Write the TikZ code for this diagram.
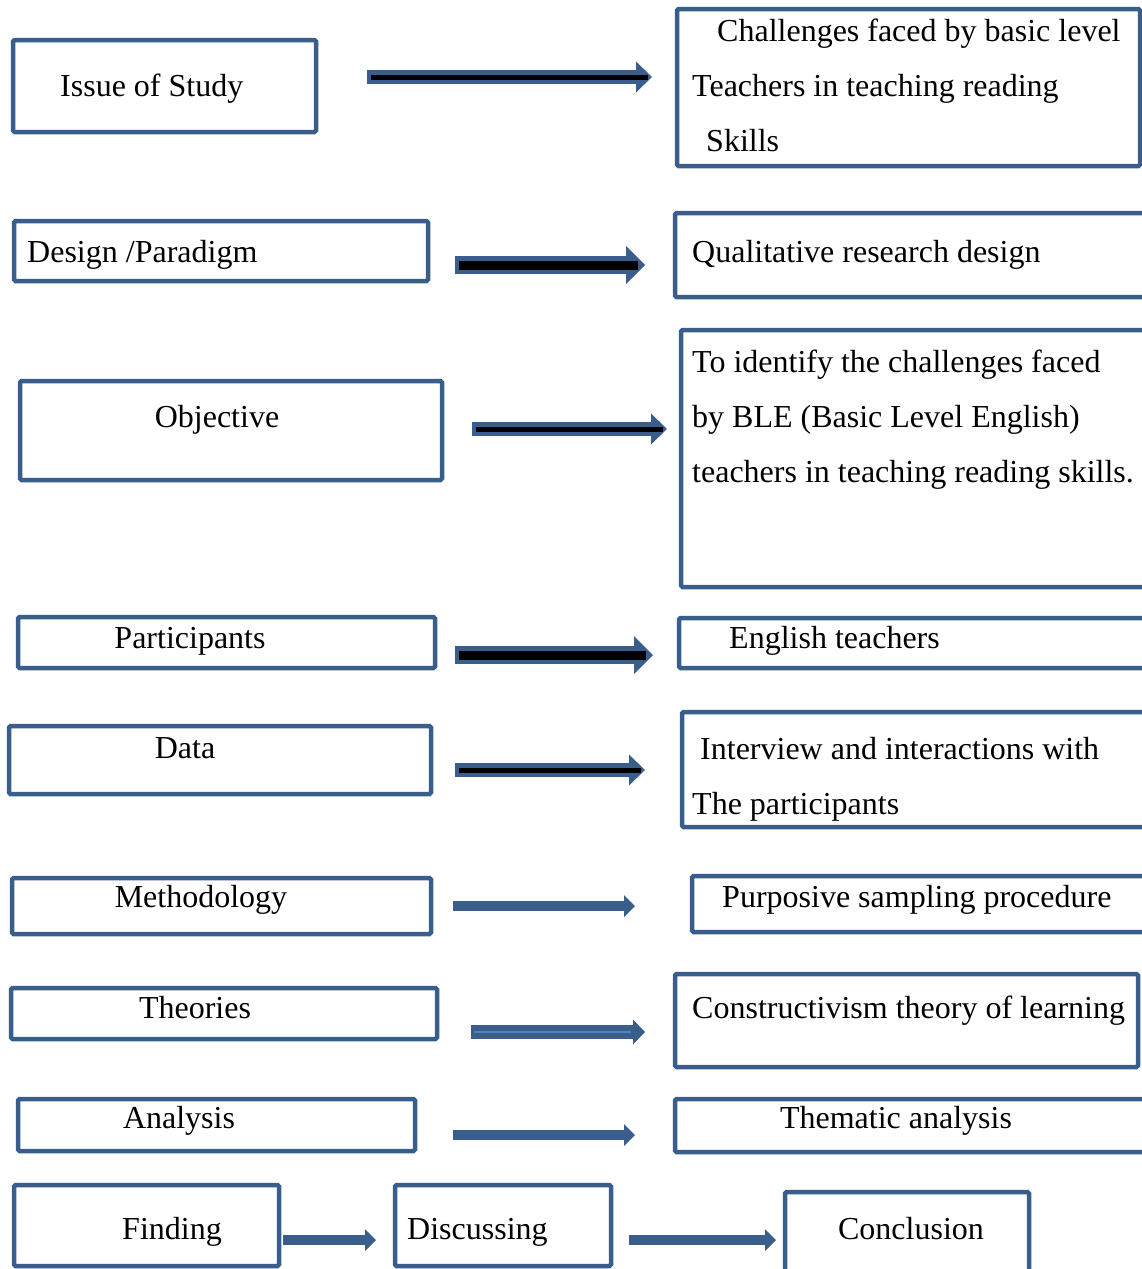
\documentclass[tikz,border=0pt]{standalone}
\usepackage{fontspec}
\setmainfont{Liberation Serif}
\usetikzlibrary{arrows.meta}

\definecolor{frameblue}{RGB}{58,94,139}
\definecolor{coreblue}{RGB}{84,130,186}

\tikzset{
  box/.style={draw=frameblue, line width=4.5pt, rounded corners=1.5pt, inner sep=0pt, outer sep=0pt, anchor=north west},
  txt/.style={font=\fontsize{32}{55}\selectfont, inner sep=0pt, align=left, anchor=base west},
  ctxt/.style={txt, anchor=base},
  thinarrow/.style={draw=frameblue, line width=14pt, -{Triangle[length=16pt,width=31pt,line width=0pt]}},
  thickarrow/.style={draw=frameblue, line width=18pt, -{Triangle[length=19pt,width=38pt,line width=0pt]}},
  flatarrow/.style={draw=frameblue, line width=10pt, -{Triangle[length=11pt,width=22pt,line width=0pt]}},
  core/.style={draw=black, line width=5pt, shorten <=4pt, shorten >=4pt},
  thickcore/.style={core, line width=9pt, shorten >=7pt},
  lightcore/.style={draw=coreblue, line width=2.5pt, shorten <=3pt, shorten >=14pt}
}

\begin{document}
\begin{tikzpicture}[x=1pt,y=-1pt]
  \useasboundingbox (0,0) rectangle (1142,1269);

  % left column
  \node[box, minimum width=303pt, minimum height=92pt] (iss) at (13,40) {};
  \node[box, minimum width=414pt, minimum height=60pt] (des) at (14,221) {};
  \node[box, minimum width=422pt, minimum height=99pt] (obj) at (20,381) {};
  \node[box, minimum width=417pt, minimum height=51pt] (par) at (18,617) {};
  \node[box, minimum width=422pt, minimum height=68pt] (dat) at (9,726) {};
  \node[box, minimum width=419pt, minimum height=56pt] (met) at (12,878) {};
  \node[box, minimum width=426pt, minimum height=51pt] (the) at (11,988) {};
  \node[box, minimum width=397pt, minimum height=52pt] (ana) at (18,1099) {};

  % right column
  \node[box, minimum width=463pt, minimum height=157pt] (chl) at (677,9) {};
  \node[box, minimum width=473pt, minimum height=84pt] (qual) at (675,213) {};
  \node[box, minimum width=467pt, minimum height=257pt] (aim) at (681,330) {};
  \node[box, minimum width=469pt, minimum height=50pt] (eng) at (679,618) {};
  \node[box, minimum width=466pt, minimum height=115pt] (intv) at (682,712) {};
  \node[box, minimum width=456pt, minimum height=56pt] (purp) at (692,876) {};
  \node[box, minimum width=463pt, minimum height=93pt] (cons) at (675,974) {};
  \node[box, minimum width=473pt, minimum height=53pt] (tha) at (675,1099) {};

  % bottom row
  \node[box, minimum width=265pt, minimum height=81pt] (fin) at (14,1185) {};
  \node[box, minimum width=216pt, minimum height=81pt] (dis) at (395,1185) {};
  \node[box, minimum width=244pt, minimum height=90pt] (conc) at (785,1192) {};

  % texts (multi-line ones sit on their last baseline)
  \node[txt] (issT) at (60,96) {Issue of Study};
  \node[txt] (desT) at (27,262) {Design /Paradigm};
  \node[ctxt] (objT) at (217,427) {Objective};
  \node[ctxt] (parT) at (190,648) {Participants};
  \node[ctxt] (datT) at (185,758) {Data};
  \node[ctxt] (metT) at (201,907) {Methodology};
  \node[ctxt] (theT) at (195,1018) {Theories};
  \node[ctxt] (anaT) at (179,1128) {Analysis};

  \node[txt] (chlT) at (692,151) {\hspace*{25pt}Challenges faced by basic level\\
    Teachers in teaching reading\\\hspace*{14pt}Skills};
  \node[txt] (qualT) at (692,262) {Qualitative research design};
  \node[txt] (aimT) at (692,482) {To identify the challenges faced\\
    by BLE (Basic Level English)\\teachers in teaching reading skills.};
  \node[txt] (engT) at (729,648) {English teachers};
  \node[txt] (intvT) at (692,814) {\hspace*{8pt}Interview and interactions with\\The participants};
  \node[txt] (purpT) at (722,907) {Purposive sampling procedure};
  \node[txt] (consT) at (692,1018) {Constructivism theory of learning};
  \node[ctxt] (thaT) at (896,1128) {Thematic analysis};

  \node[ctxt] (finT) at (172,1239) {Finding};
  \node[txt] (disT) at (407,1239) {Discussing};
  \node[ctxt] (concT) at (911,1239) {Conclusion};

  % arrow ends
  \coordinate (a1) at (367,77);   \coordinate (b1) at (652,77);
  \coordinate (a2) at (455,265);  \coordinate (b2) at (645,265);
  \coordinate (a3) at (472,429);  \coordinate (b3) at (667,429);
  \coordinate (a4) at (455,655);  \coordinate (b4) at (653,655);
  \coordinate (a5) at (455,770);  \coordinate (b5) at (645,770);
  \coordinate (a6) at (453,906);  \coordinate (b6) at (635,906);
  \coordinate (a7) at (471,1032); \coordinate (b7) at (645,1032);
  \coordinate (a8) at (453,1135); \coordinate (b8) at (635,1135);
  \coordinate (a9) at (283,1240); \coordinate (b9) at (376,1240);
  \coordinate (a10) at (629,1240); \coordinate (b10) at (776,1240);

  % arrows
  \draw[thinarrow] (a1) -- (b1);
  \draw[core] (a1) -- (b1);
  \draw[thickarrow] (a2) -- (b2);
  \draw[thickcore] (a2) -- (b2);
  \draw[thinarrow] (a3) -- (b3);
  \draw[core] (a3) -- (b3);
  \draw[thickarrow] (a4) -- (b4);
  \draw[thickcore] (a4) -- (b4);
  \draw[thinarrow] (a5) -- (b5);
  \draw[core] (a5) -- (b5);
  \draw[flatarrow] (a6) -- (b6);
  \draw[thinarrow, -{Triangle[length=12pt,width=25pt,line width=0pt]}] (a7) -- (b7);
  \draw[lightcore] (a7) -- (b7);
  \draw[flatarrow] (a8) -- (b8);
  \draw[flatarrow] (a9) -- (b9);
  \draw[flatarrow] (a10) -- (b10);
\end{tikzpicture}
\end{document}
